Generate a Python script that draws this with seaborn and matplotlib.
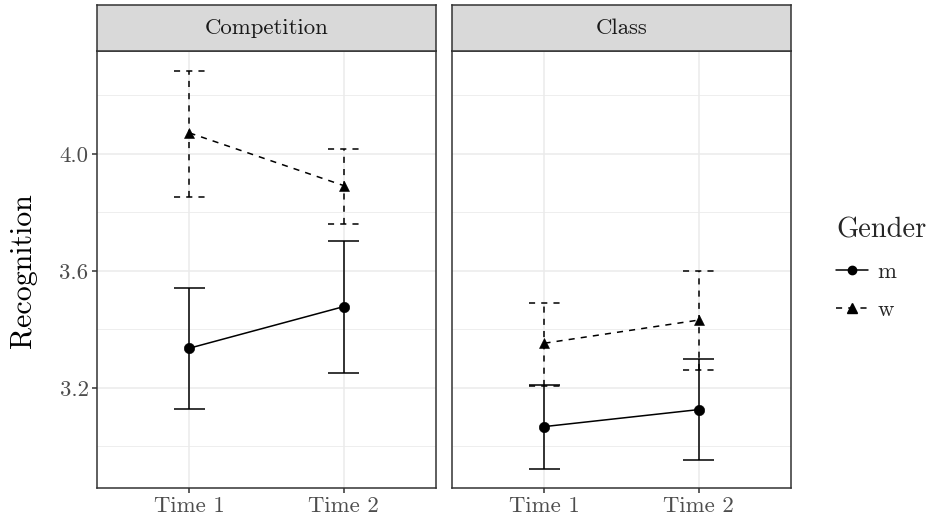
import numpy as np
import pandas as pd
import matplotlib
matplotlib.use("Agg")
import matplotlib.pyplot as plt
from matplotlib.lines import Line2D
import seaborn as sns

# data
conditions = ["Competition", "Class"]
times = ["Time 1", "Time 2"]
genders = ["m", "w"]

comp_m_mean = [3.336, 3.478]
comp_m_low = [3.129, 3.252]
comp_m_high = [3.542, 3.702]
comp_w_mean = [4.072, 3.892]
comp_w_low = [3.853, 3.760]
comp_w_high = [4.285, 4.016]

class_m_mean = [3.068, 3.126]
class_m_low = [2.924, 2.955]
class_m_high = [3.209, 3.298]
class_w_mean = [3.353, 3.432]
class_w_low = [3.207, 3.262]
class_w_high = [3.490, 3.599]

y_major = [3.2, 3.6, 4.0]
y_minor = [3.0, 3.4, 3.8, 4.2]

rows = []
series = {
    ("Competition", "m"): (comp_m_mean, comp_m_low, comp_m_high),
    ("Competition", "w"): (comp_w_mean, comp_w_low, comp_w_high),
    ("Class", "m"): (class_m_mean, class_m_low, class_m_high),
    ("Class", "w"): (class_w_mean, class_w_low, class_w_high),
}
for (cond, g), (mean, lo, hi) in series.items():
    for i, t in enumerate(times):
        rows.append({"Condition": cond, "Gender": g, "Time": t, "pos": i,
                     "mean": mean[i], "low": lo[i], "high": hi[i]})
df = pd.DataFrame(rows)

sns.set_style("white")
plt.rcParams["font.family"] = ["cmr10", "DejaVu Serif"]
plt.rcParams["axes.formatter.use_mathtext"] = True

W, H = 934, 527
fig = plt.figure(figsize=(W / 100, H / 100), dpi=100)

DASH = (0, (4, 4))
LW = 1.1
styles = {"m": "-", "w": DASH}
panel_left = [97, 452]
panel_w = 339
panel_top, panel_bot = 51, 488
strip_top = 5

for k, cond in enumerate(conditions):
    x0 = panel_left[k]
    ax = fig.add_axes([x0 / W, 1 - panel_bot / H, panel_w / W, (panel_bot - panel_top) / H])
    sub = df[df["Condition"] == cond]

    # error bars (width 0.2 like geom_errorbar)
    for g in genders:
        s = sub[sub["Gender"] == g]
        ax.vlines(s["pos"], s["low"], s["high"], colors="black", lw=LW,
                  linestyles=styles[g], zorder=2)
        for col in ["low", "high"]:
            ax.hlines(s[col], s["pos"] - 0.1, s["pos"] + 0.1, colors="black",
                      lw=LW, linestyles=styles[g], zorder=2)

    sns.lineplot(data=sub, x="pos", y="mean", style="Gender", style_order=genders,
                 markers={"m": "o", "w": "^"}, dashes={"m": "", "w": (4, 4)},
                 color="black", lw=LW, markersize=7.5, mec="black", mew=0.4,
                 ax=ax, legend=False, zorder=3)

    ax.set_xlim(-0.6, 1.6)
    ax.set_ylim(2.858, 4.352)
    ax.set_xticks(range(len(times)))
    ax.set_xticklabels(times)
    ax.set_yticks(y_major)
    ax.set_yticks(y_minor, minor=True)
    ax.set_axisbelow(True)
    ax.grid(which="major", color="#ebebeb", lw=1.1)
    ax.grid(which="minor", axis="y", color="#ebebeb", lw=0.6)
    ax.set_xlabel("")
    ax.set_ylabel("")
    for sp in ax.spines.values():
        sp.set_color("#333333")
        sp.set_linewidth(1.1)
        sp.set_visible(True)
    ax.tick_params(axis="both", which="major", length=3.6, width=1.1, color="#333333",
                   labelcolor="#4d4d4d", labelsize=16.4, pad=2.5, bottom=True, left=(k == 0))
    ax.tick_params(axis="y", which="minor", length=0)
    if k == 0:
        ax.set_yticklabels([f"{v:.1f}" for v in y_major])
    else:
        ax.tick_params(axis="y", labelleft=False)

    # facet strip
    sax = fig.add_axes([x0 / W, 1 - panel_top / H, panel_w / W, (panel_top - strip_top) / H])
    sax.set_facecolor("#d9d9d9")
    sax.set_xticks([])
    sax.set_yticks([])
    for sp in sax.spines.values():
        sp.set_color("#333333")
        sp.set_linewidth(1.1)
        sp.set_visible(True)
    sax.text(0.5, 0.5, cond, ha="center", va="center", fontsize=16.4, color="#1a1a1a",
             transform=sax.transAxes)

fig.text(23 / W, 1 - 271 / H, "Recognition", rotation=90, ha="center", va="center",
         fontsize=21.5, color="black")

handles = [
    Line2D([], [], color="black", lw=LW, ls="-", marker="o", markersize=6),
    Line2D([], [], color="black", lw=LW, ls=DASH, marker="^", markersize=6.5),
]
leg = fig.legend(handles, genders, title="Gender", loc="center left",
                 bbox_to_anchor=(825 / W, 1 - 269 / H), frameon=False,
                 fontsize=16.4, title_fontsize=20.5, handlelength=1.4,
                 handletextpad=0.4, labelspacing=0.8, borderpad=0)
leg._legend_box.align = "left"

fig.savefig("out.png", dpi=100)
